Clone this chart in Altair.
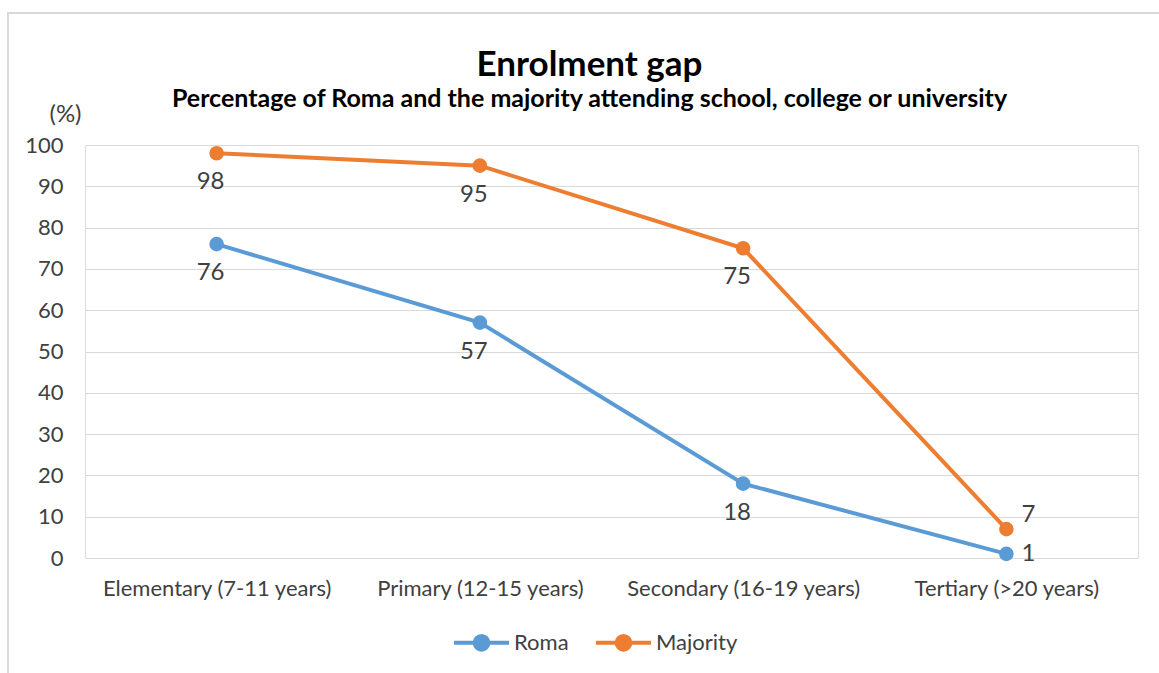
import altair as alt
import pandas as pd

# Enrolment rates (%) by education level
categories = ["Elementary (7-11 years)", "Primary (12-15 years)",
              "Secondary (16-19 years)", "Tertiary (>20 years)"]
roma = [76, 57, 18, 1]
majority = [98, 95, 75, 7]
series_names = ["Roma", "Majority"]
series_colors = ["#5B9BD5", "#ED7D31"]

FONT = "Lato"
TEXT = "#404040"
FS = 22

rows = []
for name, vals in zip(series_names, [roma, majority]):
    for i, (cat, v) in enumerate(zip(categories, vals)):
        rows.append({"level": cat, "series": name, "value": v,
                     "last": i == len(categories) - 1})
df = pd.DataFrame(rows)

x_enc = alt.X("level:N", sort=categories, title=None,
              scale=alt.Scale(paddingInner=0, paddingOuter=0.5),
              axis=alt.Axis(labelAngle=0, labelFontSize=FS, labelFont=FONT,
                            labelColor=TEXT, labelPadding=20, labelLimit=400,
                            ticks=False, domain=False, grid=False))
y_enc = alt.Y("value:Q", scale=alt.Scale(domain=[0, 100]),
              axis=alt.Axis(values=list(range(0, 101, 10)), title="(%)",
                            titleAngle=0, titleFont=FONT, titleFontSize=24,
                            titleFontWeight="normal", titleColor=TEXT,
                            titleX=-20, titleY=-31, titleAlign="center",
                            titleBaseline="middle",
                            labelFontSize=FS, labelFont=FONT, labelColor=TEXT,
                            labelPadding=22, ticks=False, domain=False,
                            gridColor="#d9d9d9", gridWidth=1.2))

stroke_scale = alt.Scale(domain=series_names, range=series_colors)

legend = alt.Legend(
    title=None, orient="none", direction="horizontal", legendX=367,
    legendY=468,
    symbolType="M-1,0H1M-0.25,0A0.25,0.25 0 1,0 0.25,0A0.25,0.25 0 1,0 -0.25,0Z",
    symbolSize=3025, symbolStrokeWidth=4, symbolOpacity=1,
    labelFontSize=FS, labelFont=FONT, labelColor=TEXT, labelOffset=3,
    columnPadding=19, padding=0,
)

base = alt.Chart(df)

lines = base.mark_line(strokeWidth=4).encode(
    x=x_enc, y=y_enc,
    stroke=alt.Stroke("series:N", scale=stroke_scale, legend=legend),
    detail="series:N",
)

points = base.mark_point(filled=True, size=160, opacity=1).encode(
    x=x_enc, y=y_enc,
    fill=alt.Fill("series:N", scale=stroke_scale, legend=legend),
    stroke=alt.Stroke("series:N", scale=stroke_scale, legend=legend),
)

# value labels: below the point, except at the last level where they sit to the right
LFS = 24
labels_below = base.transform_filter("!datum.last").mark_text(
    dy=29, dx=-6, fontSize=LFS, font=FONT, color=TEXT, baseline="middle"
).encode(x=x_enc, y=y_enc, text="value:Q")

labels_end_majority = base.transform_filter(
    "datum.last && datum.series == 'Majority'"
).mark_text(
    dx=15, dy=-14, fontSize=LFS, font=FONT, color=TEXT, align="left", baseline="middle"
).encode(x=x_enc, y=y_enc, text="value:Q")

labels_end_roma = base.transform_filter(
    "datum.last && datum.series == 'Roma'"
).mark_text(
    dx=15, fontSize=LFS, font=FONT, color=TEXT, align="left", baseline="middle"
).encode(x=x_enc, y=y_enc, text="value:Q")

frame = alt.Chart(alt.Data(values=[{}])).mark_rect(
    fill=None, stroke="#d9d9d9", strokeWidth=2
).encode(x=alt.value(-77), x2=alt.value(1100), y=alt.value(-132), y2=alt.value(560))

chart = alt.layer(frame, lines, points, labels_below,
                  labels_end_majority, labels_end_roma).properties(
    width=1053, height=413,
    title=alt.TitleParams(
        text="Enrolment gap",
        subtitle="Percentage of Roma and the majority attending school, college or university",
        font=FONT, fontSize=35, fontWeight="bold", color="#000000",
        subtitleFont=FONT, subtitleFontSize=25, subtitleFontWeight="bold",
        subtitleColor="#000000", subtitlePadding=4,
        anchor="middle", dx=-22, dy=104,
    ),
    autosize=alt.AutoSizeParams(type="none"),
    padding={"left": 85, "top": 145, "right": 21, "bottom": 115},
).configure_view(stroke=None).configure(background="white")

chart.save("out.html", embed_options={"renderer": "svg", "actions": False})
